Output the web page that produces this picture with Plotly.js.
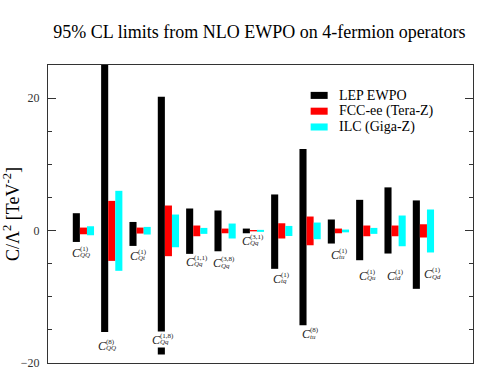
<!DOCTYPE html>
<html>
<head>
<meta charset="utf-8">
<script src="https://cdn.plot.ly/plotly-3.0.1.min.js"></script>
<style>
  html, body { margin: 0; padding: 0; background: #fff; }
  #chart { width: 499px; height: 382px; }
</style>
</head>
<body>
<div id="chart"></div>
<script>
// operator index (1..13) and the 95% CL intervals for each scenario
var groups = [1, 2, 3, 4, 5, 6, 7, 8, 9, 10, 11, 12, 13];
var lepLow  = [-1.72, -15.3, -2.32, -18.7, -3.52, -3.13, -0.41, -5.78, -14.3, -1.96, -4.48, -3.47, -8.8];
var lepHigh = [2.62, 26.0, 1.30, 20.2, 3.33, 3.03, 0.30, 5.45, 12.3, 1.67, 4.64, 6.52, 4.55];
var fccLow  = [-0.56, -4.58, -0.45, -3.87, -0.86, -0.41, -0.12, -1.20, -2.22, -0.41, -0.86, -0.86, -1.05];
var fccHigh = [0.45, 4.48, 0.45, 3.78, 0.76, 0.30, 0.08, 1.10, 2.12, 0.30, 0.76, 0.76, 0.95];
var ilcLow  = [-0.71, -6.08, -0.60, -2.52, -0.50, -1.20, -0.20, -0.82, -1.31, -0.27, -0.50, -2.37, -3.31];
var ilcHigh = [0.65, 6.00, 0.55, 2.42, 0.40, 1.06, 0.10, 0.70, 1.21, 0.15, 0.40, 2.27, 3.18];

// operator labels: C with stacked super/subscript
var labelSup = ['(1)', '(8)', '(1)', '(1,8)', '(1,1)', '(3,8)', '(3,1)', '(1)', '(8)', '(1)', '(1)', '(1)', '(1)'];
var labelSub = ['QQ', 'QQ', 'Qt', 'Qq', 'Qq', 'Qq', 'Qq', 'tq', 'tu', 'tu', 'Qu', 'td', 'Qd'];
var labelX = [1.12, 2.03, 3.18, 3.97, 5.17, 6.11, 7.14, 8.23, 9.25, 10.26, 11.26, 12.24, 13.55];
var labelY = [-3.3, -17.3, -3.7, -16.4, -4.6, -4.85, -1.5, -7.2, -15.6, -3.6, -6.75, -6.75, -6.5];

var seriesNames = ['LEP EWPO', 'FCC-ee (Tera-Z)', 'ILC (Giga-Z)'];
var seriesColors = ['#000000', '#ff0000', '#00ffff'];

var serif = 'Liberation Serif';
var barW = 0.25;

function rangeBars(low, high, k) {
    return {
        type: 'bar',
        x: groups,
        base: low,
        y: high.map(function (h, i) { return h - low[i]; }),
        width: barW,
        offset: -barW / 2 + k * barW,
        marker: { color: seriesColors[k], line: { width: 0 } },
        name: seriesNames[k],
        showlegend: false,
        hoverinfo: 'skip'
    };
}

var data = [
    rangeBars(lepLow, lepHigh, 0),
    rangeBars(fccLow, fccHigh, 1),
    rangeBars(ilcLow, ilcHigh, 2)
];

var annotations = [];
var shapes = [];

// white box behind the label that sits on a bar
groups.forEach(function (g, i) {
    if (labelY[i] > lepLow[i]) {
        annotations.push({
            x: labelX[i], y: labelY[i], xref: 'x', yref: 'y',
            xanchor: 'left', yanchor: 'middle', xshift: -8,
            text: '&nbsp;', showarrow: false, width: 26, height: 15,
            bgcolor: '#ffffff', borderpad: 0,
            font: { family: serif, size: 6, color: '#ffffff' }
        });
    }
});
groups.forEach(function (g, i) {
    annotations.push({
        x: labelX[i], y: labelY[i], xref: 'x', yref: 'y',
        xanchor: 'right', yanchor: 'middle', xshift: 3, yshift: -0.5,
        text: '<i>C</i>', showarrow: false,
        font: { family: serif, size: 12, color: '#222' }
    });
    annotations.push({
        x: labelX[i], y: labelY[i], xref: 'x', yref: 'y',
        xanchor: 'left', yanchor: 'middle', xshift: -2, yshift: 3.5,
        text: labelSup[i], showarrow: false,
        font: { family: serif, size: 7, color: '#222' }
    });
    annotations.push({
        x: labelX[i], y: labelY[i], xref: 'x', yref: 'y',
        xanchor: 'left', yanchor: 'middle', xshift: -2, yshift: -3,
        text: '<i>' + labelSub[i] + '</i>', showarrow: false,
        font: { family: serif, size: 7, color: '#222' }
    });
});

// legend drawn by hand, Grace style
var legX0 = 0.618, legX1 = 0.658, legTop = 0.898, legStep = 0.053, legHalf = 0.0118;
seriesNames.forEach(function (name, k) {
    var yc = legTop - k * legStep;
    shapes.push({
        type: 'rect', xref: 'paper', yref: 'paper',
        x0: legX0, x1: legX1, y0: yc - legHalf, y1: yc + legHalf,
        fillcolor: seriesColors[k], line: { width: 0 }
    });
    annotations.push({
        x: 0.679, y: yc, xref: 'paper', yref: 'paper',
        xanchor: 'left', yanchor: 'middle',
        text: name, showarrow: false,
        font: { family: serif, size: 14, color: '#000' }
    });
});

var layout = {
    width: 499,
    height: 382,
    margin: { l: 48, r: 26, t: 65, b: 19 },
    paper_bgcolor: '#ffffff',
    plot_bgcolor: '#ffffff',
    barmode: 'overlay',
    showlegend: false,
    title: {
        text: '95% CL limits from NLO EWPO on 4-fermion operators',
        font: { family: serif, size: 18, color: '#000' },
        x: 0.52, xanchor: 'center',
        y: 0.916, yanchor: 'middle'
    },
    xaxis: {
        range: [0, 15],
        showline: true, mirror: true,
        linecolor: '#333', linewidth: 1,
        showgrid: false, zeroline: false,
        ticks: '', showticklabels: false
    },
    yaxis: {
        range: [-20, 25],
        tickmode: 'linear', tick0: 0, dtick: 20,
        ticks: 'inside', ticklen: 8, tickwidth: 1, tickcolor: '#333',
        minor: { dtick: 5, ticks: 'inside', ticklen: 4, tickcolor: '#333' },
        showline: true, mirror: 'ticks',
        linecolor: '#333', linewidth: 1,
        showgrid: false, zeroline: false,
        ticklabelstandoff: 5,
        tickfont: { family: serif, size: 12, color: '#333' },
        title: {
            text: 'C/Λ<sup>2</sup> [TeV<sup>-2</sup>]',
            font: { family: serif, size: 18, color: '#000' },
            standoff: 6
        }
    },
    annotations: annotations,
    shapes: shapes
};

Plotly.newPlot('chart', data, layout, { displayModeBar: false, staticPlot: true });
</script>
</body>
</html>
